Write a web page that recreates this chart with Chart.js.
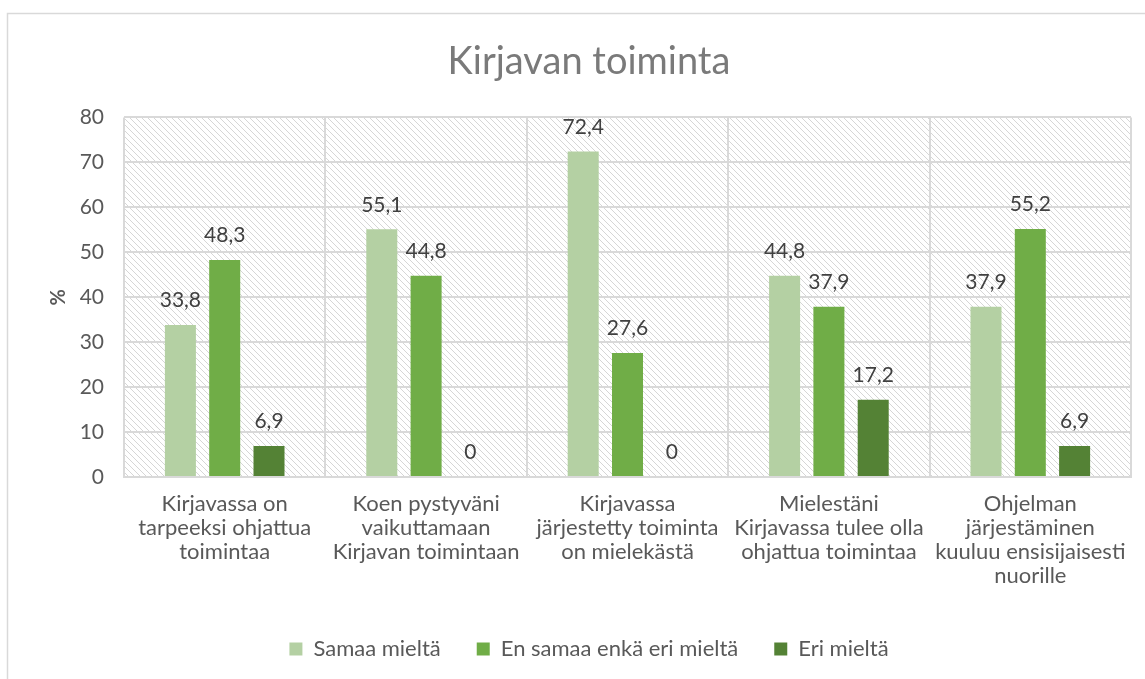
<!DOCTYPE html>
<html>
<head>
<meta charset="utf-8">
<script src="https://cdn.jsdelivr.net/npm/chart.js@4.4.1/dist/chart.umd.min.js"></script>
<style>
html,body{margin:0;padding:0;background:#fff;}
#wrap{position:relative;width:1145px;height:679px;}
</style>
</head>
<body>
<div id="wrap"><canvas id="c" width="1145" height="679"></canvas></div>
<script>
const categories = [
  ["Kirjavassa on", "tarpeeksi ohjattua", "toimintaa"],
  ["Koen pystyväni", "vaikuttamaan", "Kirjavan toimintaan"],
  ["Kirjavassa", "järjestetty toiminta", "on mielekästä"],
  ["Mielestäni", "Kirjavassa tulee olla", "ohjattua toimintaa"],
  ["Ohjelman", "järjestäminen", "kuuluu ensisijaisesti", "nuorille"]
];
const seriesNames = ["Samaa mieltä", "En samaa enkä eri mieltä", "Eri mieltä"];
const samaa = [33.8, 55.1, 72.4, 44.8, 37.9];
const enSamaa = [48.3, 44.8, 27.6, 37.9, 55.2];
const eri = [6.9, 0, 0, 17.2, 6.9];
const yTicks = [0, 10, 20, 30, 40, 50, 60, 70, 80];
const titleText = "Kirjavan toiminta";
const yTitle = "%";

const FONT = "Lato, 'Open Sans', sans-serif";
const colors = ["#b4d0a3", "#70ad47", "#548235"];

function makeHatch() {
  const s = 6;
  const p = document.createElement('canvas');
  p.width = s; p.height = s;
  const g = p.getContext('2d');
  g.fillStyle = '#ffffff';
  g.fillRect(0, 0, s, s);
  g.strokeStyle = '#d6d6d6';
  g.lineWidth = 1;
  g.beginPath();
  g.moveTo(0, 0); g.lineTo(s, s);
  g.moveTo(-s, 0); g.lineTo(s, 2 * s);
  g.moveTo(0, -s); g.lineTo(2 * s, s);
  g.stroke();
  return p;
}

const bgPlugin = {
  id: 'bg',
  beforeDraw(chart) {
    const ctx = chart.ctx;
    const a = chart.chartArea;
    ctx.save();
    ctx.fillStyle = '#ffffff';
    ctx.fillRect(0, 0, chart.width, chart.height);
    ctx.strokeStyle = '#d9d9d9';
    ctx.lineWidth = 1.5;
    ctx.strokeRect(7.5, 13.5, 1300, 800);
    ctx.fillStyle = ctx.createPattern(makeHatch(), 'repeat');
    ctx.fillRect(a.left, a.top, a.right - a.left, a.bottom - a.top);
    ctx.restore();
  }
};

const labelPlugin = {
  id: 'vals',
  afterDatasetsDraw(chart) {
    const ctx = chart.ctx;
    ctx.save();
    ctx.font = "21px " + FONT;
    ctx.fillStyle = '#404040';
    ctx.textAlign = 'center';
    ctx.textBaseline = 'bottom';
    chart.data.datasets.forEach((ds, i) => {
      const meta = chart.getDatasetMeta(i);
      meta.data.forEach((bar, j) => {
        const v = ds.data[j];
        ctx.fillText(String(v).replace('.', ','), bar.x, bar.y - 14);
      });
    });
    ctx.restore();
  }
};

new Chart(document.getElementById('c'), {
  type: 'bar',
  data: {
    labels: categories,
    datasets: [
      { label: seriesNames[0], data: samaa, backgroundColor: colors[0] },
      { label: seriesNames[1], data: enSamaa, backgroundColor: colors[1] },
      { label: seriesNames[2], data: eri, backgroundColor: colors[2] }
    ]
  },
  options: {
    responsive: false,
    animation: false,
    devicePixelRatio: 1,
    layout: { padding: { left: 47, right: 14, top: 20, bottom: 9 } },
    datasets: { bar: { categoryPercentage: 0.66, barPercentage: 0.7 } },
    plugins: {
      title: {
        display: true, text: titleText, color: '#7a7a7a',
        font: { family: FONT, size: 38, weight: 'normal', lineHeight: 1.17 },
        padding: { top: 20, bottom: 33 }
      },
      legend: {
        position: 'bottom',
        labels: {
          color: '#595959', font: { family: FONT, size: 22 },
          boxWidth: 13, boxHeight: 13, padding: 36
        }
      },
      tooltip: { enabled: false }
    },
    scales: {
      x: {
        afterFit(axis) { axis.height = 125; },
        grid: { color: '#d9d9d9', lineWidth: 2, offset: true, drawTicks: false },
        border: { color: '#d9d9d9', width: 2 },
        ticks: { color: '#595959', font: { family: FONT, size: 22, lineHeight: 1.09 }, padding: 15, maxRotation: 0 }
      },
      y: {
        min: 0, max: 80,
        afterBuildTicks(axis) { axis.ticks = yTicks.map(v => ({ value: v })); },
        afterFit(axis) { axis.width = 77; },
        grid: { color: '#d9d9d9', lineWidth: 2, drawTicks: false },
        border: { display: false },
        ticks: { color: '#595959', font: { family: FONT, size: 21 }, padding: 20 },
        title: { display: true, text: yTitle, color: '#595959', font: { family: FONT, size: 20, weight: 'bold' }, padding: { top: 0, bottom: 0, left: 0, right: 0 } }
      }
    }
  },
  plugins: [bgPlugin, labelPlugin]
});
</script>
</body>
</html>
